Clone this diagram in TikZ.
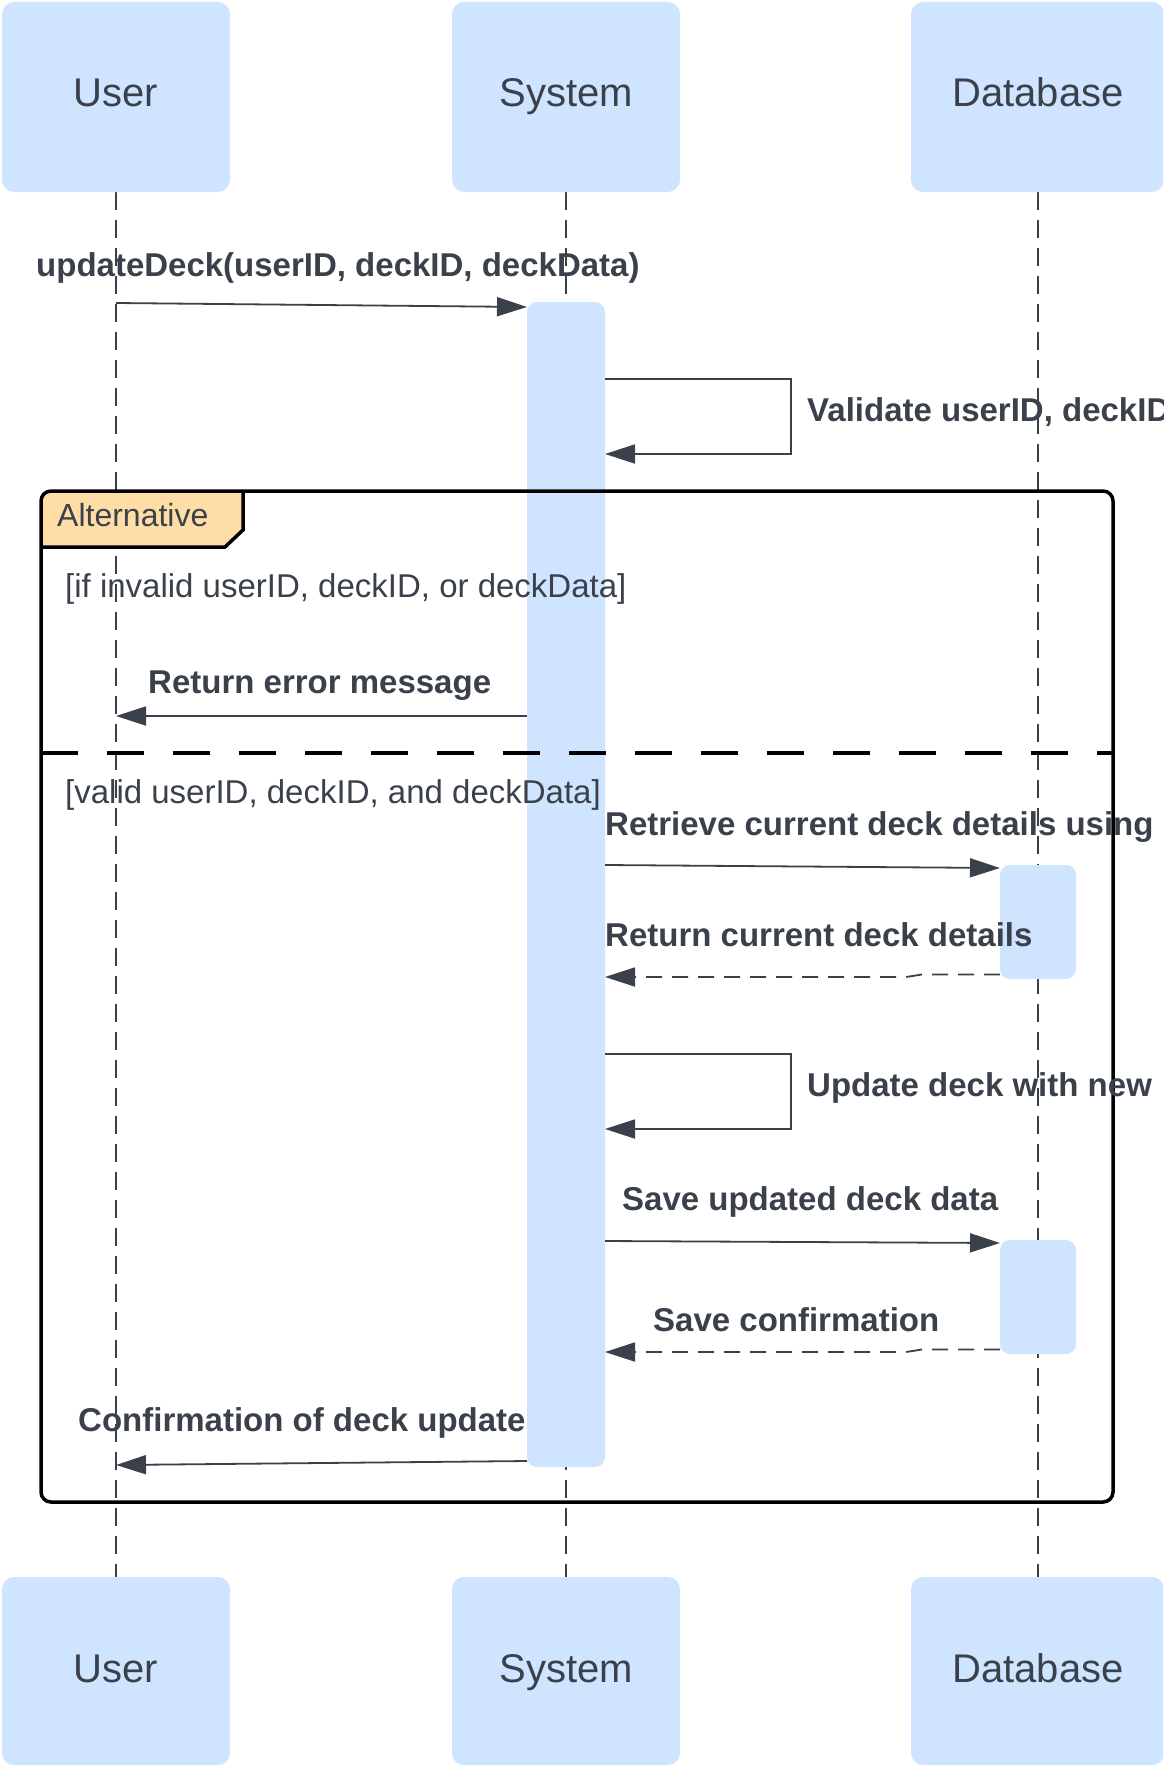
\documentclass[tikz,border=0pt]{standalone}
\usepackage{fontspec}
\setmainfont{Liberation Sans}
\usetikzlibrary{arrows.meta}
\definecolor{boxblue}{RGB}{207,228,255}
\definecolor{tabfill}{RGB}{255,221,166}
\definecolor{ink}{RGB}{58,65,74}
\tikzset{
  actorbox/.style={fill=boxblue, rounded corners=12pt},
  actorlabel/.style={text=ink, font=\fontsize{40pt}{48pt}\selectfont, inner sep=0pt, anchor=base},
  lifeline/.style={draw=ink, line width=2pt, dash pattern=on 18pt off 10pt},
  actbar/.style={fill=boxblue, rounded corners=10pt},
  msg/.style={draw=ink, line width=1.8pt, -{Triangle[length=30pt,width=19pt]}},
  reply/.style={msg, dash pattern=on 16pt off 10pt},
  selfmsg/.style={msg},
  lbl/.style={text=ink, font=\fontsize{33pt}{40pt}\selectfont\bfseries, inner sep=0pt, anchor=base west},
  guard/.style={text=ink, font=\fontsize{33pt}{40pt}\selectfont, inner sep=0pt, anchor=base west},
  frameline/.style={draw=black, line width=3.5pt},
}
\begin{document}
\begin{tikzpicture}[x=1pt,y=-1pt]
\useasboundingbox (0,0) rectangle (1163,1766);
\clip (0,0) rectangle (1163,1766);

% lifelines
\coordinate (uT) at (116,192); \coordinate (uB) at (116,1577);
\coordinate (sT) at (566,192); \coordinate (sB) at (566,1577);
\coordinate (dT) at (1038,192); \coordinate (dB) at (1038,1577);
\draw[lifeline] (uT) -- (uB);
\draw[lifeline] (sT) -- (sB);
\draw[lifeline] (dT) -- (dB);

% actor boxes
\fill[actorbox] (2,2) rectangle (230,192);
\fill[actorbox] (452,2) rectangle (680,192);
\fill[actorbox] (911,2) rectangle (1164,192);
\fill[actorbox] (2,1577) rectangle (230,1765);
\fill[actorbox] (452,1577) rectangle (680,1765);
\fill[actorbox] (911,1577) rectangle (1164,1765);
\node[actorlabel] (userTop) at (116,107) {User};
\node[actorlabel] (sysTop) at (566,107) {System};
\node[actorlabel] (dbTop) at (1038,107) {Database};
\node[actorlabel] (userBot) at (116,1682) {User};
\node[actorlabel] (sysBot) at (566,1682) {System};
\node[actorlabel] (dbBot) at (1038,1682) {Database};

% activation bars
\fill[actbar] (527,302) rectangle (605,1467);
\fill[actbar] (1000,865) rectangle (1076,979);
\fill[actbar] (1000,1240) rectangle (1076,1354);

% alternative frame
\fill[tabfill] (41,547) -- (41,501) arc[start angle=180, end angle=270, radius=10] -- (243,491) -- (243,530) -- (225,547) -- cycle;
\draw[frameline] (243,491) -- (243,530) -- (225,547) -- (41,547);
\draw[frameline, rounded corners=10pt] (41,491) rectangle (1113,1502);
\draw[draw=black, line width=4pt, dash pattern=on 37pt off 29pt] (41,753) -- (1113,753);

% message end points
\coordinate (m1a) at (116,303);  \coordinate (m1b) at (527,307);
\coordinate (v1a) at (605,379);  \coordinate (v1b) at (791,379);
\coordinate (v1c) at (791,454);  \coordinate (v1d) at (605,454);
\coordinate (e1a) at (527,716);  \coordinate (e1b) at (116,716);
\coordinate (q1a) at (605,865);  \coordinate (q1b) at (1000,868);
\coordinate (r1a) at (1000,974.5); \coordinate (r1b) at (922,974.5);
\coordinate (r1c) at (906,977);  \coordinate (r1d) at (605,977);
\coordinate (v2a) at (605,1054); \coordinate (v2b) at (791,1054);
\coordinate (v2c) at (791,1129); \coordinate (v2d) at (605,1129);
\coordinate (s1a) at (605,1241); \coordinate (s1b) at (1000,1243);
\coordinate (r2a) at (1000,1349.5); \coordinate (r2b) at (922,1349.5);
\coordinate (r2c) at (906,1352); \coordinate (r2d) at (605,1352);
\coordinate (c1a) at (527,1461); \coordinate (c1b) at (116,1465);

% messages
\draw[msg] (m1a) -- (m1b);
\draw[selfmsg] (v1a) -- (v1b) -- (v1c) -- (v1d);
\draw[msg] (e1a) -- (e1b);
\draw[msg] (q1a) -- (q1b);
\draw[reply] (r1a) -- (r1b) -- (r1c) -- (r1d);
\draw[selfmsg] (v2a) -- (v2b) -- (v2c) -- (v2d);
\draw[msg] (s1a) -- (s1b);
\draw[reply] (r2a) -- (r2b) -- (r2c) -- (r2d);
\draw[msg] (c1a) -- (c1b);

% labels
\node[lbl] (l1) at (36,276) {updateDeck(userID, deckID, deckData)};
\node[lbl] (l2) at (807,421) {Validate userID, deckID};
\node[guard, font=\fontsize{32pt}{38pt}\selectfont] (altL) at (57,526) {Alternative};
\node[guard] (g1) at (65,597) {[if invalid userID, deckID, or deckData]};
\node[lbl] (l3) at (148,693) {Return error message};
\node[guard] (g2) at (65,803) {[valid userID, deckID, and deckData]};
\node[lbl] (l4) at (605,835) {Retrieve current deck details using};
\node[lbl] (l5) at (605,946) {Return current deck details};
\node[lbl] (l6) at (807,1096) {Update deck with new};
\node[lbl] (l7) at (622,1210) {Save updated deck data};
\node[lbl] (l8) at (653,1331) {Save confirmation};
\node[lbl] (l9) at (78,1431) {Confirmation of deck update};
\end{tikzpicture}
\end{document}
